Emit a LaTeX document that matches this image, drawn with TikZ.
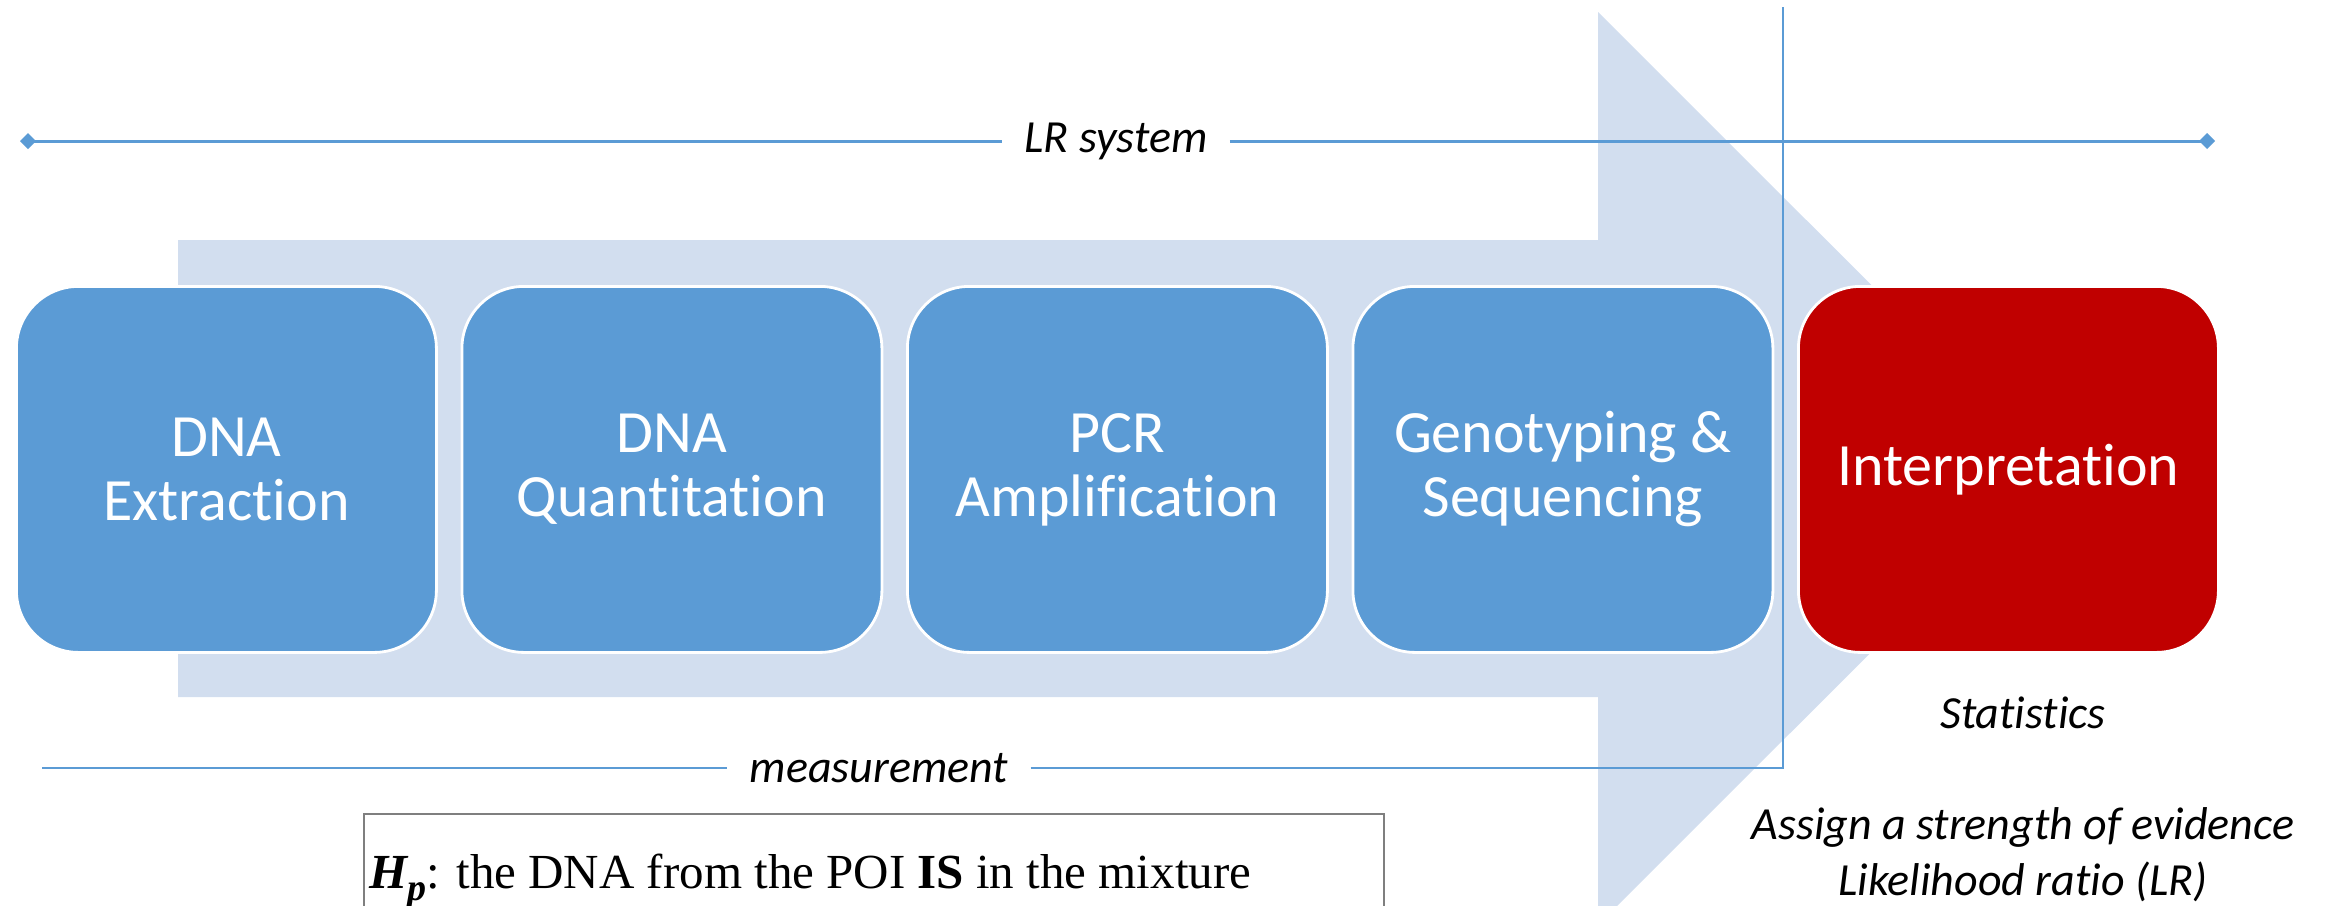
\documentclass[tikz,border=0pt]{standalone}
\usepackage{fontspec}
\setmainfont[Ligatures={NoCommon,NoContextual}, RawFeature={-liga;-clig;-calt}]{Carlito}
\newfontfamily\timesfont{Liberation Serif}
\usetikzlibrary{arrows.meta}
\definecolor{stepblue}{HTML}{5B9BD5}
\definecolor{bandblue}{HTML}{D2DEEF}
\definecolor{interpred}{HTML}{C00000}
\definecolor{framegray}{HTML}{7F7F7F}
\begin{document}
\begin{tikzpicture}[x=0.5pt,y=-0.5pt,
  stepbox/.style={draw=white, line width=1.4pt, fill=stepblue,
    rounded corners=31pt, minimum width=210pt, minimum height=183pt,
    text=white, align=center, inner sep=0pt, anchor=north west,
    font=\fontsize{30}{32}\selectfont},
  redbox/.style={stepbox, fill=interpred},
  rangeline/.style={draw=stepblue, line width=1.5pt},
  thinline/.style={draw=stepblue, line width=0.8pt},
  caption/.style={font=\fontsize{23}{28}\selectfont\itshape, align=center,
    inner ysep=0pt, inner xsep=11pt}]
  \clip (0,0) rectangle (2338,905);

  % process arrow in the background
  \fill[bandblue] (178,240) -- (1598,240) -- (1598,12) -- (2055,468.5)
    -- (1598,925) -- (1598,697) -- (178,697) -- cycle;

  % measurement bracket
  \coordinate (mL) at (42,768);
  \coordinate (mcorner) at (1783,768);
  \coordinate (mtop) at (1783,7);
  \node[caption] (mtext) at (879,768) {measurement};
  \draw[thinline] (mL) -- (mtext.west);
  \draw[thinline] (mtext.east) -- (mcorner) -- (mtop);

  % LR system range
  \coordinate (lrL) at (20,141);
  \coordinate (lrR) at (2215,141);
  \node[caption] (lrtext) at (1116,141) {LR system};
  \draw[rangeline, {Diamond[length=8pt,width=8pt]}-] (lrL) -- (lrtext.west);
  \draw[rangeline, -{Diamond[length=8pt,width=8pt]}] (lrtext.east) -- (lrR);

  % process steps
  \node[stepbox] (s1) at (15,285)   {DNA\\Extraction};
  \node[stepbox] (s2) at (460.5,285) {DNA\\Quantitation};
  \node[stepbox] (s3) at (906,285)  {PCR\\Amplification};
  \node[stepbox] (s4) at (1351.5,285) {Genotyping \&\\Sequencing};
  \node[redbox]  (s5) at (1797,285) {Interpretation};

  % statistics notes
  \node[caption] (stat) at (2023,713) {Statistics};
  \node[caption] (assign) at (2023,855) {Assign a strength of evidence\\Likelihood ratio (LR)};

  % hypothesis box
  \draw[framegray, line width=0.8pt] (364,814) rectangle (1384,990);
  \node[anchor=base west, inner sep=0pt, font=\timesfont\fontsize{24.5}{28}\selectfont]
    (hp) at (369,888)
    {\textbf{\textit{H\raisebox{-0.26em}{\fontsize{19}{20}\selectfont p}}}: the DNA from the POI \textbf{IS} in the mixture};
\end{tikzpicture}
\end{document}
